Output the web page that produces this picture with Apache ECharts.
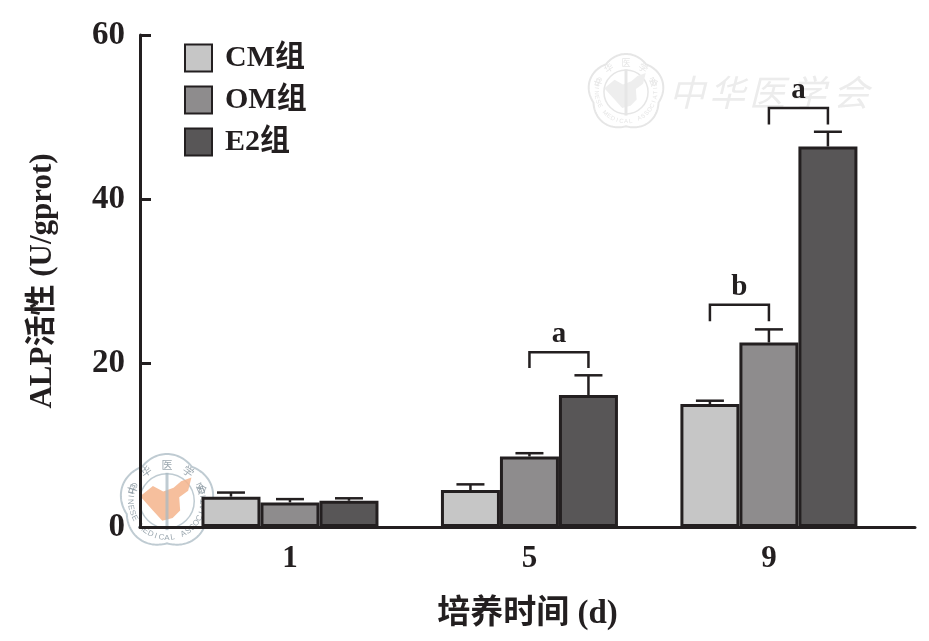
<!DOCTYPE html>
<html>
<head>
<meta charset="utf-8">
<title>ALP</title>
<script src="https://cdn.jsdelivr.net/npm/echarts@6/dist/echarts.min.js"></script>
<style>
  html, body { margin: 0; padding: 0; background: #fff; }
  #chart { width: 929px; height: 641px; }
</style>
</head>
<body>
<div id="chart"></div>
<script>
'use strict';
var days = [1, 5, 9];
var yTicks = [0, 20, 40, 60];
var groupNames = ['CM组', 'OM组', 'E2组'];
var groupColors = ['#c6c6c6', '#8e8c8d', '#585657'];
var cmValues = [3.7, 4.5, 15.0];
var omValues = [3.0, 8.6, 22.5];
var e2Values = [3.2, 16.1, 46.4];
var cmTops = [4.2, 5.2, 15.4];
var omTops = [3.4, 9.0, 24.1];
var e2Tops = [3.5, 18.5, 48.2];
// 显著性标记: 天, 左右柱序号, 底, 顶, 字母
var markDays = [5, 9, 9];
var markFrom = [1, 0, 1];
var markTo = [2, 1, 2];
var markLow = [19.4, 25.1, 49.1];
var markHigh = [21.3, 27.1, 51.1];
var markText = ['a', 'b', 'a'];

var ink = '#231f20';
var serif = '"Liberation Serif", "Noto Sans CJK SC", serif';
var barWidth = 59;
var allValues = [cmValues, omValues, e2Values];
var allTops = [cmTops, omTops, e2Tops];

function pair(xs, ys) {
  return xs.map(function (x, i) { return [x, ys[i]]; });
}

function barSeries(index) {
  return {
    name: groupNames[index],
    type: 'bar',
    barWidth: barWidth,
    barGap: '0%',
    z: 3,
    itemStyle: { color: groupColors[index], borderColor: ink, borderWidth: 3 },
    data: pair(days, allValues[index])
  };
}

function errorSeries(index) {
  return {
    type: 'custom',
    z: 2,
    silent: true,
    data: days.map(function (d, i) { return [d, allValues[index][i], allTops[index][i]]; }),
    renderItem: function (params, api) {
      var low = api.coord([api.value(0), api.value(1)]);
      var high = api.coord([api.value(0), api.value(2)]);
      var x = low[0] + (index - 1) * barWidth;
      var style = { stroke: ink, lineWidth: 2.5 };
      return {
        type: 'group',
        children: [
          { type: 'line', shape: { x1: x, y1: low[1], x2: x, y2: high[1] }, style: style },
          { type: 'line', shape: { x1: x - 14, y1: high[1], x2: x + 14, y2: high[1] }, style: style }
        ]
      };
    }
  };
}

function markSeries() {
  return {
    type: 'custom',
    z: 4,
    silent: true,
    data: markDays.map(function (d, i) { return [d, markLow[i], markHigh[i], markFrom[i], markTo[i]]; }),
    renderItem: function (params, api) {
      var low = api.coord([api.value(0), api.value(1)]);
      var high = api.coord([api.value(0), api.value(2)]);
      var x1 = low[0] + (api.value(3) - 1) * barWidth;
      var x2 = low[0] + (api.value(4) - 1) * barWidth;
      return {
        type: 'group',
        children: [
          {
            type: 'polyline',
            shape: { points: [[x1, low[1]], [x1, high[1]], [x2, high[1]], [x2, low[1]]] },
            style: { stroke: ink, lineWidth: 2.5, fill: 'none' }
          },
          {
            type: 'text',
            x: (x1 + x2) / 2,
            y: high[1] - 3,
            style: {
              text: markText[params.dataIndex],
              font: 'bold 29px ' + serif,
              fill: ink,
              textAlign: 'center',
              textVerticalAlign: 'bottom'
            }
          }
        ]
      };
    }
  };
}

// 水印印章
function seal(cx, cy, R, line, text, mapColor, small) {
  var pts = [];
  for (var k = 0; k <= 180; k++) {
    var t = k / 180 * Math.PI * 2;
    var r = R * (0.9 + 0.1 * Math.abs(Math.cos(2.5 * t)));
    pts.push([cx + r * Math.sin(t), cy - r * Math.cos(t)]);
  }
  var items = [
    { type: 'polyline', shape: { points: pts }, style: { stroke: line, lineWidth: 2, fill: 'none' } },
    { type: 'circle', shape: { cx: cx, cy: cy, r: R * 0.58 }, style: { stroke: line, lineWidth: 1.5, fill: 'none' } },
    {
      type: 'polygon',
      shape: {
        points: [
          [cx - R * 0.57, cy - R * 0.1], [cx - R * 0.3, cy - R * 0.32], [cx - R * 0.08, cy - R * 0.2],
          [cx + R * 0.14, cy - R * 0.28], [cx + R * 0.3, cy - R * 0.42], [cx + R * 0.52, cy - R * 0.5],
          [cx + R * 0.45, cy - R * 0.22], [cx + R * 0.26, cy - R * 0.08], [cx + R * 0.28, cy + R * 0.2],
          [cx + R * 0.12, cy + R * 0.36], [cx - R * 0.1, cy + R * 0.42], [cx - R * 0.3, cy + R * 0.2]
        ]
      },
      style: { fill: mapColor }
    },
    { type: 'line', shape: { x1: cx, y1: cy - R * 0.6, x2: cx, y2: cy + R * 0.62 }, style: { stroke: line, lineWidth: 3 } }
  ];
  var top = '中华医学会';
  for (var i = 0; i < top.length; i++) {
    var a = (i - 2) * 0.62;
    items.push({
      type: 'text',
      x: cx + R * 0.78 * Math.sin(a),
      y: cy - R * 0.78 * Math.cos(a),
      rotation: -a,
      style: { text: top.charAt(i), font: small + 3 + 'px "Noto Sans CJK SC"', fill: text, textAlign: 'center', textVerticalAlign: 'middle' }
    });
  }
  var bottom = 'CHINESE MEDICAL ASSOCIATION';
  for (var j = 0; j < bottom.length; j++) {
    var b = (j - 13) * 0.155;
    items.push({
      type: 'text',
      x: cx + R * 0.78 * Math.sin(b),
      y: cy + R * 0.78 * Math.cos(b),
      rotation: b,
      style: { text: bottom.charAt(j), font: small + 'px "Liberation Sans"', fill: text, textAlign: 'center', textVerticalAlign: 'middle' }
    });
  }
  return { type: 'group', silent: true, z: 10, children: items };
}

var wmChars = '中华医学会';
var wmX = [687, 727, 767, 808, 851];
var wmTexts = wmChars.split('').map(function (c, i) {
  return {
    type: 'text',
    x: wmX[i],
    y: 92,
    z: 1,
    silent: true,
    style: {
      text: c,
      font: 'italic 36px "Noto Sans CJK SC"',
      fill: '#ececec',
      textAlign: 'center',
      textVerticalAlign: 'middle'
    }
  };
});

var series = [];
[0, 1, 2].forEach(function (i) { series.push(errorSeries(i)); });
[0, 1, 2].forEach(function (i) { series.push(barSeries(i)); });
series.push(markSeries());

var chart = echarts.init(document.getElementById('chart'));
chart.setOption({
  animation: false,
  backgroundColor: '#fff',
  textStyle: { fontFamily: serif },
  grid: { left: 140, right: 14, top: 35, bottom: 114 },
  legend: {
    orient: 'vertical',
    left: 179,
    top: 38,
    icon: 'rect',
    itemWidth: 27,
    itemHeight: 27,
    itemGap: 12,
    selectedMode: false,
    data: groupNames,
    textStyle: { fontFamily: serif, fontSize: 30, fontWeight: 'bold', color: ink, padding: [6, 0, 0, 8] }
  },
  xAxis: {
    type: 'value',
    min: -1.505,
    max: 11.44,
    name: '培养时间 (d)',
    nameLocation: 'middle',
    nameGap: 71,
    nameTextStyle: { fontFamily: serif, fontSize: 33, fontWeight: 'bold', color: ink },
    splitLine: { show: false },
    axisTick: { show: false },
    axisLine: { onZero: false, lineStyle: { color: ink, width: 3 } },
    axisLabel: { customValues: days, margin: 16, fontSize: 31, fontWeight: 'bold', color: ink, fontFamily: serif }
  },
  yAxis: {
    type: 'value',
    min: yTicks[0],
    max: yTicks[3],
    interval: 20,
    name: 'ALP活性 (U/gprot)',
    nameLocation: 'middle',
    nameGap: 82,
    nameTextStyle: { fontFamily: serif, fontSize: 31, fontWeight: 'bold', color: ink },
    splitLine: { show: false },
    axisTick: { inside: true, length: 11, lineStyle: { color: ink, width: 3 } },
    axisLine: { show: true, onZero: false, lineStyle: { color: ink, width: 3 } },
    axisLabel: { margin: 15, fontSize: 33, fontWeight: 'bold', color: ink, fontFamily: serif, padding: [7, 0, 0, 0] }
  },
  graphic: wmTexts.concat([
    seal(167, 501, 47, 'rgba(170,185,195,0.75)', 'rgba(130,145,155,0.8)', 'rgba(244,180,140,0.85)', 8),
    seal(626, 92, 38, '#e6e6e6', '#e6e6e6', '#eeeeee', 6)
  ]),
  series: series
});
</script>
</body>
</html>
